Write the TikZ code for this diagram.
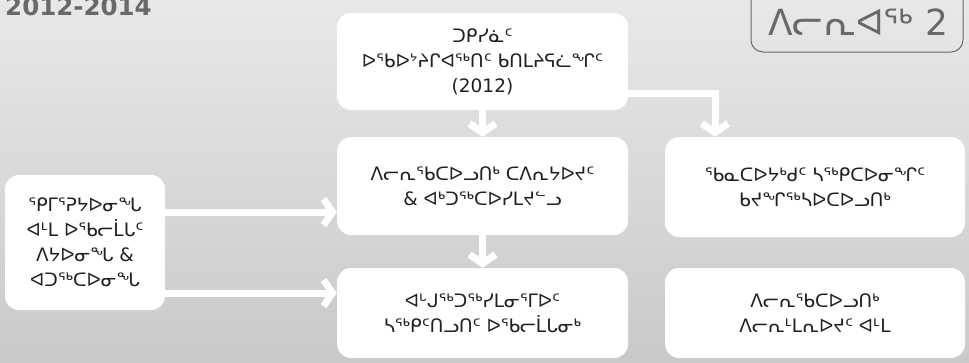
\documentclass[tikz,border=0pt]{standalone}
\usepackage{fontspec}
\setmainfont{DejaVu Sans}
\usetikzlibrary{arrows.meta}
\definecolor{bgtop}{HTML}{E8E8EA}
\definecolor{bgbot}{HTML}{C9C9CB}
\definecolor{headgrey}{HTML}{69696B}
\definecolor{ink}{HTML}{231F20}
\tikzset{
  box/.style={fill=white, rounded corners=14pt, align=center, text=ink,
    font=\fontsize{18.5}{25}\selectfont, inner sep=0pt},
  flow/.style={draw=white, line width=7pt, -{Straight Barb[length=9pt,width=26pt]}},
}
\begin{document}
\begin{tikzpicture}[x=1pt,y=-1pt]
  \shade[top color=bgtop, bottom color=bgbot] (0,0) rectangle (969,362);
  \useasboundingbox (0,0) rectangle (969,362);
  % titles
  \node[anchor=base west, inner sep=0pt, text=headgrey,
    font=\bfseries\fontsize{24.5}{24.5}\selectfont] (years) at (5,15) {2012-2014};
  \draw[headgrey, line width=1pt, rounded corners=12pt] (751,-30) rectangle (963,52);
  \node[anchor=base, inner sep=0pt, text=headgrey,
    font=\fontsize{36}{36}\selectfont] (stage) at (858,35) {ᐱᓕᕆᐊᖅ 2};
  % boxes
  \node[box, minimum width=291pt, minimum height=97pt] (advisors) at (482.5,61.5)
    {ᑐᑭᓯᓈᑦ\\ᐅᖃᐅᔾᔨᒋᐊᖅᑎᑦ ᑲᑎᒪᔨᕋᓛᖏᑦ\\(2012)};
  \node[box, minimum width=291pt, minimum height=98pt] (partners) at (482.5,186)
    {ᐱᓕᕆᖃᑕᐅᓗᑎᒃ ᑕᐱᕆᔭᐅᔪᑦ\\\& ᐊᒃᑐᖅᑕᐅᓯᒪᔪᓪᓗ};
  \node[box, minimum width=300pt, minimum height=100pt] (agencies) at (815,187)
    {ᖃᓇᑕᐅᔭᒃᑯᑦ ᓴᖅᑭᑕᐅᓂᖏᑦ\\ᑲᔪᖏᖅᓴᐅᑕᐅᓗᑎᒃ};
  \node[box, minimum width=160pt, minimum height=135pt] (review) at (85,242.5)
    {ᕿᒥᕐᕈᔭᐅᓂᖓ\\ᐊᒻᒪ ᐅᖃᓕᒫᒐᑦ\\ᐱᔭᐅᓂᖓ \&\\ᐊᑐᖅᑕᐅᓂᖓ};
  \node[box, minimum width=291pt, minimum height=90pt] (results) at (482.5,313)
    {ᐊᒡᒍᖅᑐᖅᓯᒪᓂᕐᒥᐅᑦ\\ᓴᖅᑭᑦᑎᓗᑎᑦ ᐅᖃᓕᒫᒐᓂᒃ};
  \node[box, minimum width=300pt, minimum height=90pt] (planning) at (815,313)
    {ᐱᓕᕆᖃᑕᐅᓗᑎᒃ\\ᐱᓕᕆᒻᒪᕆᐅᔪᑦ ᐊᒻᒪ};
  % arrows
  \draw[flow] (advisors.south) -- (partners.north);
  \draw[flow] (partners.south) -- (results.north);
  \coordinate (bend) at ([yshift=-31.5pt]advisors.east);
  \draw[flow] (bend) -| ([xshift=-100pt]agencies.north);
  \coordinate (l1) at ([yshift=30.5pt]review.east);
  \draw[flow] (l1) -- (l1 -| partners.west);
  \coordinate (l2) at ([yshift=-50.5pt]review.east);
  \draw[flow] (l2) -- (l2 -| results.west);
\end{tikzpicture}
\end{document}
